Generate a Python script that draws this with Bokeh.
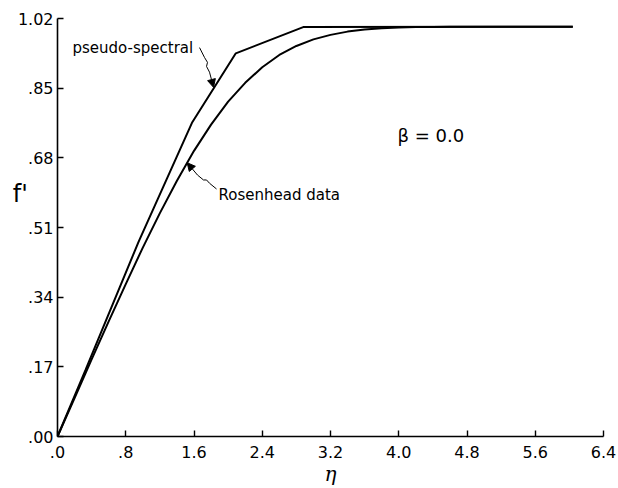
from bokeh.plotting import figure
from bokeh.models import Range1d, FixedTicker, Label, Arrow, NormalHead
from bokeh.embed import file_html
from bokeh.resources import INLINE

# Data
eta_pseudo = [0.0, 0.33, 0.95, 1.58, 2.09, 2.88, 6.04]
fp_pseudo = [0.0, 0.163, 0.475, 0.767, 0.935, 0.999, 1.0]

eta_rosen = [0.0, 0.2, 0.4, 0.6, 0.8, 1.0, 1.2, 1.4, 1.6, 1.8, 2.0, 2.2, 2.4, 2.6,
             2.8, 3.0, 3.2, 3.4, 3.6, 3.8, 4.0, 4.2, 4.4, 4.6, 4.8, 5.0, 6.04]
fp_rosen = [0.0, 0.094, 0.188, 0.281, 0.372, 0.461, 0.545, 0.624, 0.697, 0.761,
            0.817, 0.863, 0.901, 0.931, 0.953, 0.969, 0.980, 0.988, 0.993, 0.996,
            0.998, 0.999, 0.9994, 0.9997, 0.9999, 1.0, 1.0]

x_ticks = [0.0, 0.8, 1.6, 2.4, 3.2, 4.0, 4.8, 5.6, 6.4]
x_tick_labels = [".0", ".8", "1.6", "2.4", "3.2", "4.0", "4.8", "5.6", "6.4"]
y_ticks = [0.0, 0.17, 0.34, 0.51, 0.68, 0.85, 1.02]
y_tick_labels = [".00", ".17", ".34", ".51", ".68", ".85", "1.02"]

FONT = "DejaVu Sans"

p = figure(width=618, height=488, output_backend="svg", toolbar_location=None,
           x_range=Range1d(0, 6.4), y_range=Range1d(0, 1.02),
           min_border_left=57, min_border_right=15, min_border_top=18, min_border_bottom=51)
p.outline_line_color = None
p.grid.visible = False
p.background_fill_color = "white"
p.border_fill_color = "white"

for ax, ticks, labels in ((p.xaxis[0], x_ticks, x_tick_labels), (p.yaxis[0], y_ticks, y_tick_labels)):
    ax.ticker = FixedTicker(ticks=ticks)
    ax.major_label_overrides = {t: l for t, l in zip(ticks, labels)}
    ax.major_tick_in = 6
    ax.major_tick_out = 0
    ax.minor_tick_line_color = None
    ax.axis_line_width = 1.6
    ax.major_tick_line_width = 1.4
    ax.axis_line_color = "black"
    ax.major_tick_line_color = "black"
    ax.major_label_text_font = FONT
    ax.major_label_text_font_size = "16px"
    ax.major_label_text_color = "black"
    ax.axis_label_text_color = "black"
    ax.axis_label_text_font_style = "normal"
p.xaxis.major_label_standoff = 9
p.yaxis.major_label_standoff = 4

p.yaxis.axis_label = "f'\n \n "
p.yaxis.axis_label_orientation = "horizontal"
p.yaxis.axis_label_text_font = FONT
p.yaxis.axis_label_text_font_size = "24px"
p.yaxis.axis_label_standoff = -13

p.xaxis.axis_label = "η"
p.xaxis.axis_label_text_font = "DejaVu Serif"
p.xaxis.axis_label_text_font_style = "italic"
p.xaxis.axis_label_text_font_size = "20px"
p.xaxis.axis_label_standoff = 1

p.line(eta_pseudo, fp_pseudo, line_color="black", line_width=2)
p.line(eta_rosen, fp_rosen, line_color="black", line_width=2)

# annotations
p.add_layout(Label(x=0.176, y=0.947, text="pseudo-spectral", text_font=FONT, text_font_size="15px",
                   text_align="left", text_baseline="middle", text_color="black"))
p.add_layout(Label(x=1.887, y=0.589, text="Rosenhead  data", text_font=FONT, text_font_size="15px",
                   text_align="left", text_baseline="middle", text_color="black"))
p.add_layout(Label(x=3.985, y=0.735, text="β = 0.0", text_font=FONT, text_font_size="18px",
                   text_align="left", text_baseline="middle", text_color="black"))

# leader lines
lead1_x = [1.665, 1.723, 1.758, 1.747, 1.782]
lead1_y = [0.949, 0.925, 0.913, 0.903, 0.889]
p.line(lead1_x, lead1_y, line_color="black", line_width=1)
p.add_layout(Arrow(x_start=1.782, y_start=0.889, x_end=1.829, y_end=0.852, line_width=1,
                   end=NormalHead(size=8, fill_color="black", line_color="black")))

lead2_x = [1.864, 1.782, 1.747, 1.711, 1.641]
lead2_y = [0.604, 0.618, 0.626, 0.626, 0.638]
p.line(lead2_x, lead2_y, line_color="black", line_width=1)
p.add_layout(Arrow(x_start=1.641, y_start=0.638, x_end=1.52, y_end=0.668, line_width=1,
                   end=NormalHead(size=8, fill_color="black", line_color="black")))

open("out.html", "w").write(file_html(p, INLINE))
